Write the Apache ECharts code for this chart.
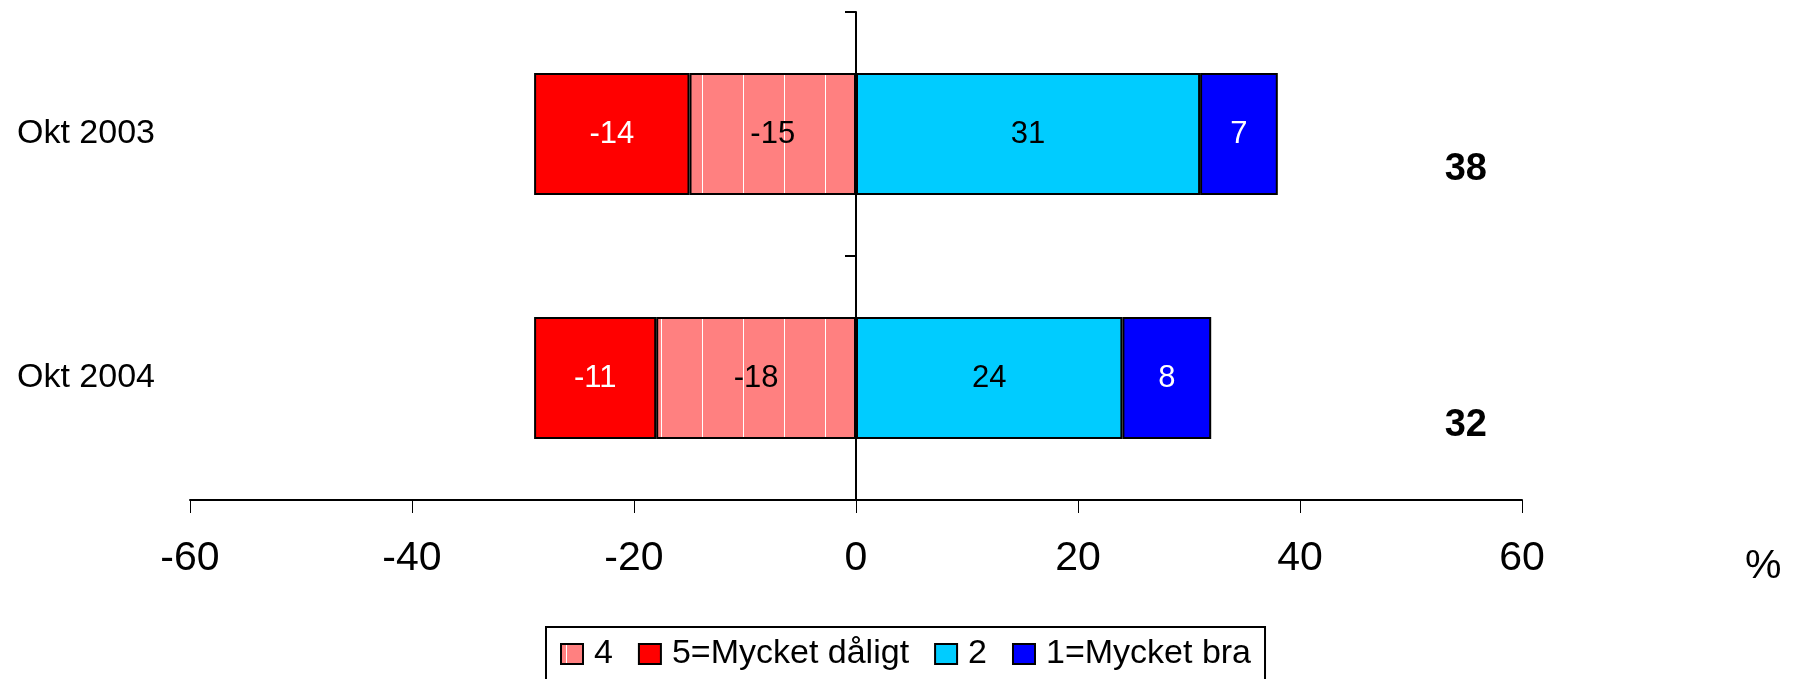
<!DOCTYPE html>
<html>
<head>
<meta charset="utf-8">
<script src="https://cdn.jsdelivr.net/npm/echarts@6/dist/echarts.min.js"></script>
<style>
  html, body { margin: 0; padding: 0; background: #fff; }
  #chart { width: 1807px; height: 679px; }
</style>
</head>
<body>
<div id="chart"></div>
<script>
const categories = ['Okt 2003', 'Okt 2004']
const seriesNames = ['4', '5=Mycket dåligt', '2', '1=Mycket bra']
const values4 = [-15, -18]
const values5 = [-14, -11]
const values2 = [31, 24]
const values1 = [7, 8]
const totals = [38, 32]
const xTicks = { min: -60, max: 60, interval: 20 }

const FONT = '"Liberation Sans", Arial, sans-serif'

// pink fill with thin white vertical lines, like the hatched "4" bars
const makePattern = () => {
  const c = document.createElement('canvas')
  c.width = 41
  c.height = 8
  const ctx = c.getContext('2d')
  ctx.fillStyle = '#ff8080'
  ctx.fillRect(0, 0, 41, 8)
  ctx.fillStyle = '#ffffff'
  ctx.fillRect(5, 0, 1, 8)
  return c
}

const barBase = (name, data, color, labelColor) => ({
  name: name,
  type: 'bar',
  stack: 'total',
  yAxisIndex: 0,
  barWidth: '50%',
  data: data,
  itemStyle: { color: color, borderColor: '#000', borderWidth: 2 },
  label: {
    show: true,
    position: 'inside',
    color: labelColor,
    fontFamily: FONT,
    fontSize: 31
  },
  emphasis: { disabled: true }
})

const chart = echarts.init(document.getElementById('chart'))

chart.setOption({
  animation: false,
  grid: { left: 190, right: 285, top: 12, bottom: 179 },
  legend: {
    data: seriesNames,
    icon: 'rect',
    left: 546,
    top: 627,
    padding: [10, 14],
    itemGap: 25,
    itemWidth: 22,
    itemHeight: 20,
    borderColor: '#000',
    borderWidth: 2,
    textStyle: { fontFamily: FONT, fontSize: 34, color: '#000', padding: [0, 0, 0, 6] }
  },
  xAxis: {
    type: 'value',
    min: xTicks.min,
    max: xTicks.max,
    interval: xTicks.interval,
    name: '{p|%}',
    nameLocation: 'end',
    nameGap: 223,
    nameTextStyle: {
      rich: {
        p: { fontFamily: FONT, fontSize: 41, color: '#000', padding: [134, 0, 0, 0] }
      }
    },
    axisLine: { show: true, lineStyle: { color: '#000', width: 2 } },
    axisTick: { show: true, length: 13, lineStyle: { color: '#000', width: 1 } },
    splitLine: { show: false },
    axisLabel: { fontFamily: FONT, fontSize: 41, color: '#000', margin: 38 }
  },
  yAxis: [
    {
      type: 'category',
      data: categories,
      inverse: true,
      position: 'left',
      axisLine: { show: false, onZero: false },
      axisTick: { show: false },
      axisLabel: { align: 'left', margin: 173, fontFamily: FONT, fontSize: 34, color: '#000' }
    },
    {
      type: 'category',
      data: categories,
      inverse: true,
      position: 'left',
      axisLine: { show: true, onZero: true, lineStyle: { color: '#000', width: 2 } },
      axisTick: { show: true, length: 11, lineStyle: { color: '#000', width: 2 } },
      axisLabel: { show: false }
    },
    {
      type: 'category',
      data: categories,
      inverse: true,
      position: 'right',
      axisLine: { show: false, onZero: false },
      axisTick: { show: false },
      axisLabel: {
        inside: true,
        margin: 35,
        formatter: (v, i) => '{t' + i + '|' + totals[i] + '}',
        rich: {
          t0: { fontFamily: FONT, fontSize: 38, fontWeight: 'bold', color: '#000', padding: [72, 0, 0, 0] },
          t1: { fontFamily: FONT, fontSize: 38, fontWeight: 'bold', color: '#000', padding: [96, 0, 0, 0] }
        }
      }
    }
  ],
  series: [
    barBase(seriesNames[0], values4, { image: makePattern(), repeat: 'repeat' }, '#000'),
    barBase(seriesNames[1], values5, '#ff0000', '#fff'),
    barBase(seriesNames[2], values2, '#00ccff', '#000'),
    barBase(seriesNames[3], values1, '#0000ff', '#fff')
  ]
})
</script>
</body>
</html>
